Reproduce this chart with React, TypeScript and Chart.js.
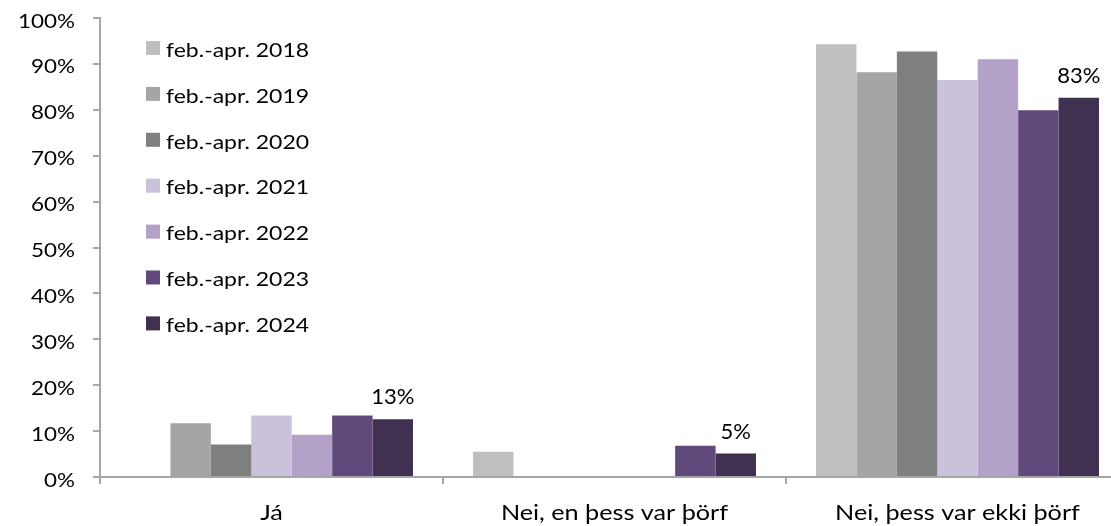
import React, { useEffect, useRef } from "react";
import { Chart, registerables } from "chart.js";

Chart.register(...registerables);

const categories = ["Já", "Nei, en þess var þörf", "Nei, þess var ekki þörf"];
const seriesNames = [
  "feb.-apr. 2018",
  "feb.-apr. 2019",
  "feb.-apr. 2020",
  "feb.-apr. 2021",
  "feb.-apr. 2022",
  "feb.-apr. 2023",
  "feb.-apr. 2024",
];
const v2018 = [null, 5.5, 94.3];
const v2019 = [11.7, null, 88.2];
const v2020 = [7.1, null, 92.7];
const v2021 = [13.4, null, 86.5];
const v2022 = [9.2, null, 91.0];
const v2023 = [13.4, 6.8, 79.9];
const v2024 = [12.6, 5.1, 82.6];
const colors = ["#BFBFBF", "#A5A5A5", "#7F7F7F", "#CCC1DA", "#B3A2C7", "#604A7B", "#403151"];
const yTicks = [0, 10, 20, 30, 40, 50, 60, 70, 80, 90, 100];
const labelledSeries = 6;

const FONT = "Lato";
const AXIS_COLOR = "#A6A6A6";

function stretchedText(
  ctx: CanvasRenderingContext2D,
  text: string,
  x: number,
  y: number,
  size: number,
  align: CanvasTextAlign,
  sx: number
) {
  ctx.save();
  ctx.font = `${size}px ${FONT}`;
  ctx.fillStyle = "#000";
  ctx.textAlign = align;
  ctx.textBaseline = "alphabetic";
  ctx.translate(x, y);
  ctx.scale(sx, 1);
  ctx.fillText(text, 0, 0);
  ctx.restore();
}

const textPlugin = {
  id: "texts",
  afterDraw(chart: any) {
    const ctx = chart.ctx;
    const area = chart.chartArea;
    const xs = chart.scales.x;
    const ys = chart.scales.y;

    // y tick labels
    yTicks.forEach((v) => {
      stretchedText(ctx, v + "%", area.left - 25, ys.getPixelForValue(v) + 9.5, 19.5, "right", 1.15);
    });

    // x category labels
    chart.data.labels.forEach((lab: string, i: number) => {
      stretchedText(ctx, lab, xs.getPixelForValue(i), area.bottom + 43, 21, "center", 1.2);
    });

    // legend inside the plot
    chart.data.datasets.forEach((ds: any, i: number) => {
      const cy = area.top + 30 + i * 45.9;
      ctx.save();
      ctx.fillStyle = ds.backgroundColor;
      ctx.fillRect(area.left + 46, cy - 7, 14, 14);
      ctx.restore();
      stretchedText(ctx, ds.label, area.left + 66, cy + 8.7, 20, "left", 1.15);
    });

    // data labels on last series
    const meta = chart.getDatasetMeta(labelledSeries);
    const data = chart.data.datasets[labelledSeries].data;
    meta.data.forEach((bar: any, i: number) => {
      const v = data[i];
      if (v == null) return;
      stretchedText(ctx, Math.round(v) + "%", bar.x, bar.y - 15, 21, "center", 1.05);
    });
  },
};

export default function App() {
  const ref = useRef<HTMLCanvasElement>(null);
  useEffect(() => {
    if (!ref.current) return;
    const all = [v2018, v2019, v2020, v2021, v2022, v2023, v2024];
    const chart = new Chart(ref.current, {
      type: "bar",
      data: {
        labels: categories,
        datasets: all.map((d, i) => ({
          label: seriesNames[i],
          data: d,
          backgroundColor: colors[i],
          borderWidth: 0,
          categoryPercentage: 0.825,
          barPercentage: 1,
        })),
      },
      options: {
        animation: false,
        responsive: false,
        maintainAspectRatio: false,
        layout: { padding: { top: 18, right: 11, left: 0, bottom: 0 } },
        plugins: {
          legend: { display: false },
          tooltip: { enabled: false },
        },
        scales: {
          x: {
            offset: true,
            grid: {
              offset: true,
              drawOnChartArea: false,
              drawTicks: true,
              tickLength: 7,
              color: AXIS_COLOR,
              lineWidth: 2,
            },
            border: { display: true, color: AXIS_COLOR, width: 2 },
            ticks: { display: false },
            afterFit(scale: any) {
              scale.height = 49;
            },
          },
          y: {
            min: 0,
            max: 100,
            afterBuildTicks(scale: any) {
              scale.ticks = yTicks.map((v) => ({ value: v }));
            },
            grid: {
              drawOnChartArea: false,
              drawTicks: true,
              tickLength: 7,
              color: AXIS_COLOR,
              lineWidth: 2,
            },
            border: { display: true, color: AXIS_COLOR, width: 2 },
            ticks: { display: false },
            afterFit(scale: any) {
              scale.width = 100;
            },
          },
        },
      },
      plugins: [textPlugin],
    });
    return () => chart.destroy();
  }, []);
  return (
    <div
      style={{
        position: "fixed",
        left: 0,
        top: 0,
        width: 1111,
        height: 526,
        overflow: "hidden",
        background: "#fff",
      }}
    >
      <canvas ref={ref} width={1140} height={526} style={{ display: "block", width: 1140, height: 526 }} />
    </div>
  );
}
